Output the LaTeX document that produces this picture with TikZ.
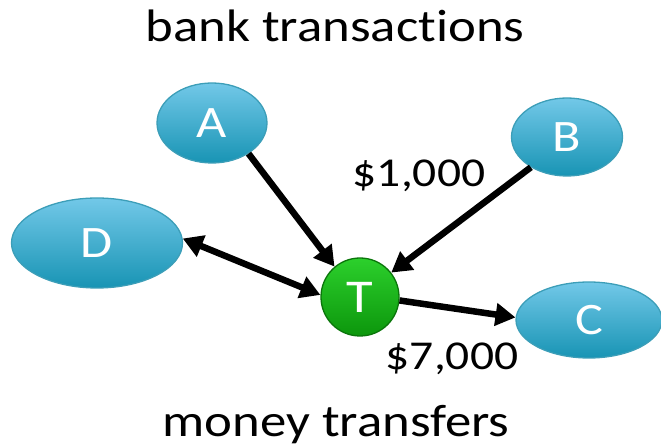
\documentclass[tikz,border=0pt]{standalone}
\usepackage{fontspec}
\setmainfont{Carlito}
\newfontfamily\widefont[FakeStretch=1.16,Ligatures={NoCommon}]{Carlito}
\usetikzlibrary{shapes.geometric,arrows.meta}
\definecolor{blueTop}{HTML}{72C8E8}
\definecolor{blueBot}{HTML}{1894B4}
\definecolor{blueEdge}{HTML}{3C9EB8}
\definecolor{greenTop}{HTML}{2CD02C}
\definecolor{greenBot}{HTML}{0C960C}
\definecolor{greenEdge}{HTML}{0B760B}
\tikzset{
  party/.style={ellipse, draw=blueEdge, line width=1.3pt, inner sep=0pt,
    top color=blueTop, bottom color=blueBot, text=white,
    font=\widefont\fontsize{45}{52}\selectfont},
  hub/.style={circle, draw=greenEdge, line width=1.3pt, inner sep=0pt,
    minimum size=78pt, top color=greenTop, bottom color=greenBot, text=white,
    font=\widefont\fontsize{47}{52}\selectfont},
  caption/.style={anchor=base, font=\widefont\fontsize{45.5}{54}\selectfont},
  amount/.style={anchor=base, font=\widefont\fontsize{41}{48}\selectfont},
  tip/.style={Triangle[length=20pt,width=22pt]},
  flow/.style={line width=6.5pt, -{Triangle[length=20pt,width=22pt]}},
  twoway/.style={line width=6.5pt, {Triangle[length=20pt,width=22pt]}-{Triangle[length=20pt,width=22pt]}}
}
\begin{document}
\begin{tikzpicture}[x=1pt,y=1pt]
  \useasboundingbox (0,0) rectangle (661,447);
  \begin{scope}
    \clip (0,0) rectangle (661,447);
    \node[party, minimum width=110pt, minimum height=80pt] (A) at (212,324) {A};
    \node[party, minimum width=111pt, minimum height=78pt] (B) at (567,310) {B};
    \node[party, minimum width=171pt, minimum height=90pt] (D) at (97,204) {D};
    \node[party, minimum width=146pt, minimum height=76pt] (C) at (589,127) {C};
    \node[hub] (T) at (360,150) {T};
  \end{scope}
  \draw[flow] (A.-40) -- (T.130);
  \draw[flow] (B.220) -- (T.38);
  \draw[twoway] (D.3) -- (T.177);
  \draw[flow] (T.-5) -- (C.178);
  \node[amount] (k1) at (419,260) {\$1,000};
  \node[amount] (k7) at (452,77) {\$7,000};
  \node[caption] (title) at (335,405) {bank transactions};
  \node[caption] (sub) at (336,11) {money transfers};
\end{tikzpicture}
\end{document}
